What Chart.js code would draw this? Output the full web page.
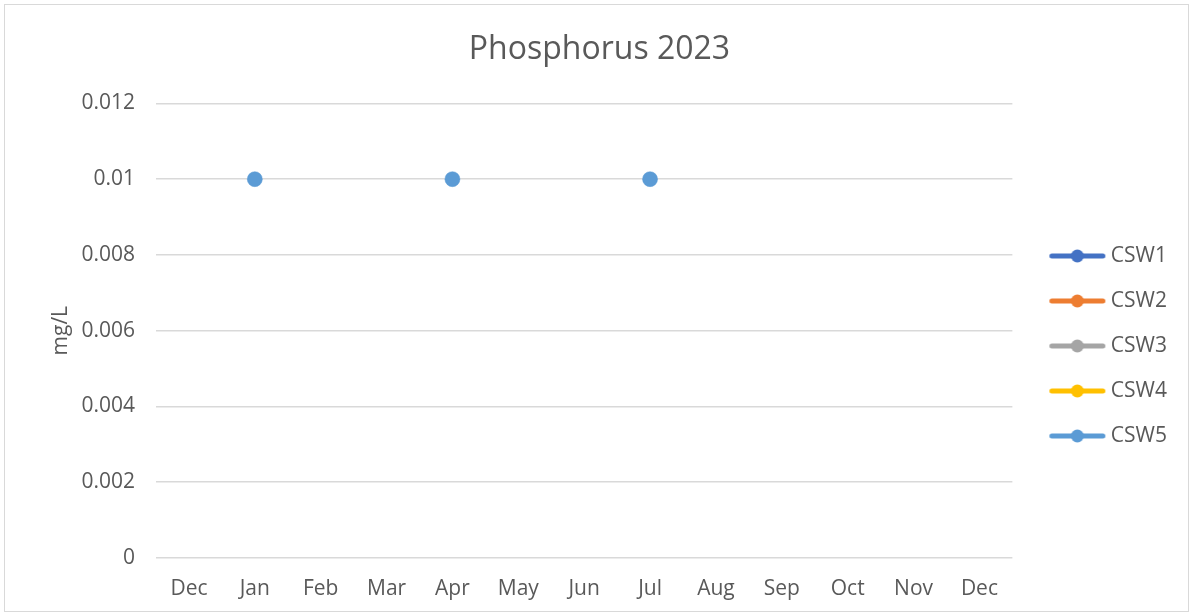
<!DOCTYPE html>
<html>
<head>
<meta charset="utf-8">
<script src="https://cdn.jsdelivr.net/npm/chart.js@4/dist/chart.umd.min.js"></script>
<style>
  html, body { margin: 0; padding: 0; background: #fff; }
  #wrap { width: 1193px; height: 616px; }
</style>
</head>
<body>
<div id="wrap"><canvas id="phosChart" width="1193" height="616"></canvas></div>
<script>
// Datos de la gráfica
const months = ['Dec', 'Jan', 'Feb', 'Mar', 'Apr', 'May', 'Jun', 'Jul', 'Aug', 'Sep', 'Oct', 'Nov', 'Dec'];
const siteNames = ['CSW1', 'CSW2', 'CSW3', 'CSW4', 'CSW5'];
const siteColors = ['#4472C4', '#ED7D31', '#A5A5A5', '#FFC000', '#5B9BD5'];
const csw1 = [null, null, null, null, null, null, null, null, null, null, null, null, null];
const csw2 = [null, null, null, null, null, null, null, null, null, null, null, null, null];
const csw3 = [null, null, null, null, null, null, null, null, null, null, null, null, null];
const csw4 = [null, null, null, null, null, null, null, null, null, null, null, null, null];
const csw5 = [null, 0.01, null, null, 0.01, null, null, 0.01, null, null, null, null, null];
const seriesValues = [csw1, csw2, csw3, csw4, csw5];

const textColor = '#595959';
const gridColor = '#D9D9D9';
const fontFamily = '"Open Sans", sans-serif';

// Marcador de leyenda: línea con punto (desplazado a la derecha dentro del lienzo)
function legendMarker(color) {
    const c = document.createElement('canvas');
    c.width = 90;
    c.height = 14;
    const g = c.getContext('2d');
    g.strokeStyle = color;
    g.lineWidth = 5;
    g.lineCap = 'round';
    g.beginPath();
    g.moveTo(28.5, 7);
    g.lineTo(79.5, 7);
    g.stroke();
    g.fillStyle = color;
    g.beginPath();
    g.arc(54, 7, 6.5, 0, Math.PI * 2);
    g.fill();
    return c;
}

// Borde exterior del gráfico
const frame = {
    id: 'frame',
    beforeDraw(chart) {
        const ctx = chart.ctx;
        ctx.save();
        ctx.fillStyle = '#fff';
        ctx.fillRect(0, 0, chart.width, chart.height);
        ctx.strokeStyle = '#D9D9D9';
        ctx.lineWidth = 1;
        ctx.strokeRect(4.5, 4.5, chart.width - 9, chart.height - 9);
        ctx.restore();
    }
};

new Chart(document.getElementById('phosChart').getContext('2d'), {
    type: 'line',
    data: {
        labels: months,
        datasets: siteNames.map((name, i) => ({
            label: name,
            data: seriesValues[i],
            borderColor: siteColors[i],
            backgroundColor: siteColors[i],
            borderWidth: 2.5,
            pointRadius: 7.5,
            pointHoverRadius: 7.5,
            pointBorderWidth: 0.5,
            pointBorderColor: siteColors[i],
            pointStyle: 'circle',
            spanGaps: false,
            fill: false
        }))
    },
    options: {
        responsive: false,
        animation: false,
        layout: {
            padding: { left: 22, right: 16, top: 0, bottom: 4 }
        },
        plugins: {
            title: {
                display: true,
                text: 'Phosphorus 2023',
                color: textColor,
                font: { family: fontFamily, size: 32, weight: 'normal' },
                padding: { top: 31, bottom: 34 }
            },
            legend: {
                position: 'right',
                align: 'center',
                title: {
                    display: true,
                    text: ' ',
                    font: { family: fontFamily, size: 20 },
                    padding: { top: 28, bottom: 28 }
                },
                labels: {
                    color: textColor,
                    font: { family: fontFamily, size: 21 },
                    usePointStyle: true,
                    pointStyleWidth: 64,
                    padding: 24,
                    generateLabels(chart) {
                        return chart.data.datasets.map((ds, i) => ({
                            text: ds.label,
                            fillStyle: ds.borderColor,
                            strokeStyle: ds.borderColor,
                            fontColor: textColor,
                            lineWidth: 0,
                            pointStyle: legendMarker(ds.borderColor),
                            hidden: false,
                            datasetIndex: i
                        }));
                    }
                }
            },
            tooltip: { enabled: false }
        },
        scales: {
            x: {
                offset: true,
                grid: { display: false, drawTicks: false },
                border: { display: false },
                ticks: {
                    color: textColor,
                    font: { family: fontFamily, size: 21 },
                    padding: 18,
                    maxRotation: 0,
                    autoSkip: false
                },
                afterFit(scale) { scale.height = 54; }
            },
            y: {
                min: 0,
                max: 0.012,
                grid: { color: gridColor, lineWidth: 1.5, drawTicks: false },
                border: { display: false },
                ticks: {
                    stepSize: 0.002,
                    color: textColor,
                    font: { family: fontFamily, size: 21 },
                    padding: 21,
                    callback: v => String(Number(v.toFixed(3)))
                },
                title: {
                    display: true,
                    text: 'mg/L',
                    color: textColor,
                    font: { family: fontFamily, size: 21 },
                    padding: { top: 26, bottom: 0 }
                },
                afterFit(scale) { scale.width = 134; }
            }
        }
    },
    plugins: [frame]
});
</script>
</body>
</html>
